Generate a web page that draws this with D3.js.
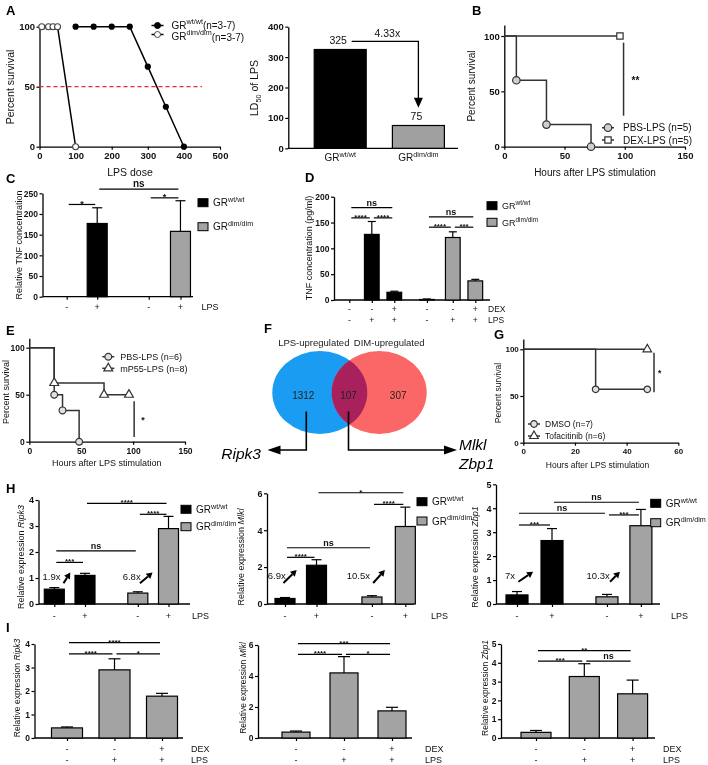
<!DOCTYPE html>
<html><head><meta charset="utf-8">
<script src="https://cdn.jsdelivr.net/npm/d3@7"></script>
<style>
body{margin:0;background:#fff}
svg{display:block;will-change:transform}
</style></head><body>
<svg id="fig" width="708" height="765"></svg>
<script>
// ================= DATA =================
// A (left): survival vs LPS dose
const aDoseWT = [100,150,200,250,300,350,400];
const aSurvWT = [100,100,100,100,66.7,33.3,0];
const aDoseDim = [6.25,25,37.5,50,100];
const aSurvDim = [100,100,100,100,0];
const aXTicks = [0,100,200,300,400,500];
const aYTicks = [0,50,100];
const aLegend = [["wt/wt","(n=3-7)"],["dim/dim","(n=3-7)"]];
// A (middle): LD50
const ldGroups = ["wt/wt","dim/dim"];
const ldValues = [325,75];
const ldFold = "4.33x";
const ldTicks = [0,100,200,300,400];
// B
const bPbsT=[0,10,35,72], bPbsS=[100,60,20,0];
const bPbsMT=[10,35,72], bPbsMS=[60,20,0];
const bDexT=[0,96], bDexS=[100,100];
const bDexMT=[96], bDexMS=[100];
const bLegend=["PBS-LPS (n=5)","DEX-LPS (n=5)"];
const bXTicks=[0,50,100,150];
// C
const cValues=[0,177,0,158];
const cErr=[0,38,0,74];
const cLPS=["-","+","-","+"];
const cTicks=[0,50,100,150,200,250];
const cSig=[{a:0,b:1,v:223,t:"*"},{a:2,b:3,v:239,t:"*"},{a:1,b:3,v:260,t:"ns"}];
// D
const dValues=[0,127,15,1,121,37];
const dErr=[0,25,2,1,11,3];
const dDEX=["-","-","+","-","-","+"];
const dLPS=["-","+","+","-","+","+"];
const dTicks=[0,50,100,150,200];
const dSig=[{a:0,b:2,v:179,t:"ns"},{a:0,b:1,v:159,t:"****"},{a:1,b:2,v:159,t:"****"},
            {a:3,b:5,v:161,t:"ns"},{a:3,b:4,v:141,t:"****"},{a:4,b:5,v:141,t:"***"}];
// E
const ePbsT=[0,24,32,48], ePbsS=[100,50,33.3,0];
const eP55T=[0,24,72,96], eP55S=[100,62.5,50,50];
const eLegend=["PBS-LPS (n=6)","mP55-LPS (n=8)"];
// F
const vennSets=["LPS-upregulated","DIM-upregulated"];
const vennCounts=[1312,107,307];
const vennLeftGenes=["Ripk3"];
const vennRightGenes=["Mlkl","Zbp1"];
// G
const gDmsoT=[0,28,48], gDmsoS=[100,57.1,57.1];
const gTofaT=[0,48], gTofaS=[100,100];
const gLegend=["DMSO (n=7)","Tofacitinib (n=6)"];
const gXTicks=[0,20,40,60];
// H
const hLPS=["-","+","-","+"];
const hRipk3=[0.57,1.1,0.42,2.9],  hRipk3Err=[0.06,0.08,0.05,0.47];
const hMlkl=[0.3,2.1,0.38,4.2],    hMlklErr=[0.05,0.3,0.07,1.05];
const hZbp1=[0.38,2.65,0.3,3.27],  hZbp1Err=[0.14,0.5,0.1,0.68];
const hFolds=[["1.9x","6.8x"],["6.9x","10.5x"],["7x","10.3x"]];
// I
const iDEX=["-","-","+"], iLPS=["-","+","+"];
const iRipk3=[0.43,2.9,1.78], iRipk3Err=[0.04,0.47,0.12];
const iMlkl=[0.38,4.2,1.75],  iMlklErr=[0.07,1.05,0.23];
const iZbp1=[0.3,3.27,2.35],  iZbp1Err=[0.1,0.68,0.73];

// ================= HELPERS =================
const F='"Liberation Sans", Arial, Helvetica, sans-serif';
const svg=d3.select("#fig").attr("font-family",F);
const BLACK="#000", GRAY="#a3a3a3", CURVE="#333";
const intFmt=d=>String(d);

function txt(g,x,y,s,o={}){
  const t=g.append("text").attr("x",x).attr("y",y).text(s)
    .attr("font-size",o.size||10).attr("text-anchor",o.anchor||"start")
    .attr("font-weight",o.bold?"bold":"normal").attr("fill",o.fill||"#111");
  if(o.italic) t.attr("font-style","italic");
  if(o.rotate) t.attr("transform",`rotate(-90,${x},${y})`);
  return t;
}
function rotLabel(g,x,y,parts,size){
  const t=g.append("text").attr("x",x).attr("y",y).attr("font-size",size)
    .attr("text-anchor","middle").attr("fill","#111").attr("transform",`rotate(-90,${x},${y})`);
  parts.forEach(p=>{
    const s=t.append("tspan").text(p.t);
    if(p.i) s.attr("font-style","italic");
    if(p.sub){ s.attr("font-size",size*0.7).attr("dy",size*0.3); }
    if(p.back){ s.attr("dy",-size*0.3); }
  });
  return t;
}
function grText(g,x,y,sup,size,anchor,after,afterDy){
  const t=g.append("text").attr("x",x).attr("y",y).attr("font-size",size)
    .attr("text-anchor",anchor||"start").attr("fill","#111");
  t.append("tspan").text("GR");
  t.append("tspan").attr("dy",-size*0.42).attr("font-size",size*0.72).text(sup);
  if(after){ t.append("tspan").attr("dy",size*0.42+(afterDy||0)).text(after); }
  return t;
}
function styleAxis(a,fs){
  a.attr("font-family",F);
  a.select(".domain").attr("stroke",BLACK).attr("stroke-width",1.3);
  a.selectAll(".tick line").attr("stroke",BLACK).attr("stroke-width",1.2);
  a.selectAll(".tick text").attr("font-size",fs).attr("font-weight","bold").attr("fill","#111");
}
function yAxis(g,y,x,ticks,fs){
  const a=g.append("g").attr("transform",`translate(${x},0)`)
   .call(d3.axisLeft(y).tickValues(ticks).tickFormat(intFmt).tickSize(3).tickSizeOuter(0).tickPadding(1.5));
  styleAxis(a,fs); return a;
}
function xAxis(g,x,y0,ticks,fs){
  const a=g.append("g").attr("transform",`translate(0,${y0})`)
   .call(d3.axisBottom(x).tickValues(ticks).tickFormat(intFmt).tickSize(3).tickSizeOuter(0).tickPadding(3));
  styleAxis(a,fs); return a;
}
function sym(g,type,x,y,size,fill){
  g.append("path").attr("d",d3.symbol().type(type).size(size)())
   .attr("transform",`translate(${x},${y})`).attr("fill",fill).attr("stroke",CURVE).attr("stroke-width",1.2);
}
function arrowHead(g,tx,ty,dir,len,half){
  let pts;
  if(dir==="down") pts=[[tx,ty],[tx-half,ty-len],[tx+half,ty-len]];
  if(dir==="left") pts=[[tx,ty],[tx+len,ty-half],[tx+len,ty+half]];
  if(dir==="right") pts=[[tx,ty],[tx-len,ty-half],[tx-len,ty+half]];
  g.append("polygon").attr("points",pts.map(p=>p.join(",")).join(" ")).attr("fill",BLACK);
}
function diagArrow(g,x1,y1,x2,y2){
  const ang=Math.atan2(y2-y1,x2-x1), L=6, W=3.5;
  const bx=x2-L*Math.cos(ang), by=y2-L*Math.sin(ang);
  g.append("line").attr("x1",x1).attr("y1",y1).attr("x2",bx).attr("y2",by).attr("stroke",BLACK).attr("stroke-width",2);
  const px=-Math.sin(ang)*W, py=Math.cos(ang)*W;
  g.append("polygon").attr("points",`${x2},${y2} ${bx+px},${by+py} ${bx-px},${by-py}`).attr("fill",BLACK);
}
function panelLetter(x,y,s){ txt(svg,x,y,s,{size:13,bold:true,fill:"#000"}); }

function survPanel(p){
  const g=svg.append("g");
  const x=d3.scaleLinear().domain(p.xd).range(p.xr);
  const y=d3.scaleLinear().domain([0,100]).range(p.yr);
  yAxis(g,d3.scaleLinear().domain([0,p.yTop]).range([p.yr[0],y(p.yTop)]),p.xr[0],[0,50,100],p.fs);
  xAxis(g,x,p.yr[0],p.xTicks,p.fs);
  const line=d3.line().x(d=>x(d[0])).y(d=>y(d[1])).curve(d3.curveStepAfter);
  p.curves.forEach(c=>{
    g.append("path").attr("d",line(c.t.map((t,i)=>[t,c.s[i]]))).attr("fill","none")
     .attr("stroke",CURVE).attr("stroke-width",1.5);
  });
  p.curves.forEach(c=>{
    c.mt.forEach((t,i)=>sym(g,c.sym,x(t),y(c.ms[i]),c.ss,c.fill));
  });
  g.append("line").attr("x1",x(p.sig.x)).attr("x2",x(p.sig.x)).attr("y1",y(p.sig.lo)).attr("y2",y(p.sig.hi))
   .attr("stroke",CURVE).attr("stroke-width",1.5);
  txt(g,x(p.sig.x)+p.sig.dx,y((p.sig.lo+p.sig.hi)/2)+p.fsL*0.45,p.sig.t,{size:p.fsL,bold:true});
  p.curves.forEach((c,i)=>{
    const ly=p.leg.y+i*p.leg.dy;
    g.append("line").attr("x1",p.leg.x-6).attr("x2",p.leg.x+6).attr("y1",ly).attr("y2",ly).attr("stroke",CURVE).attr("stroke-width",1.5);
    sym(g,c.sym,p.leg.x,ly,c.ss,c.fill);
    txt(g,p.leg.x+p.leg.tx,ly+p.fsL*0.36,p.labels[i],{size:p.fsL});
  });
  rotLabel(g,p.ylab[0],p.ylab[1],[{t:"Percent survival"}],p.fsL);
  txt(g,p.xlab[0],p.xlab[1],"Hours after LPS stimulation",{size:p.fsL,anchor:"middle"});
}

function barPanel(p){
  const g=svg.append("g");
  const y=d3.scaleLinear().domain([0,p.yMax]).range([p.y0,p.y1]);
  const x=d3.scaleLinear().domain([0,1]).range([p.c0,p.c0+p.unit]);
  const xs=p.slots.map(s=>x(s));
  g.append("line").attr("x1",p.axisX).attr("x2",p.xEnd).attr("y1",p.y0).attr("y2",p.y0).attr("stroke",BLACK).attr("stroke-width",1.3);
  const xa=g.append("g").attr("transform",`translate(0,${p.y0})`)
    .call(d3.axisBottom(x).tickValues(p.slots).tickFormat("").tickSize(3).tickSizeOuter(0));
  xa.select(".domain").remove(); xa.selectAll("line").attr("stroke",BLACK).attr("stroke-width",1.2);
  yAxis(g,y,p.axisX,p.ticks,p.fs);
  const data=p.values.map((v,i)=>({v,e:p.errs[i],x:xs[i],f:p.fills[i]}));
  g.selectAll("rect.bar").data(data.filter(d=>d.v>0)).join("rect").attr("class","bar")
    .attr("x",d=>d.x-p.bw/2).attr("y",d=>y(d.v)).attr("width",p.bw).attr("height",d=>p.y0-y(d.v))
    .attr("fill",d=>d.f).attr("stroke",BLACK).attr("stroke-width",1.2);
  data.filter(d=>d.e>0).forEach(d=>{
    g.append("line").attr("x1",d.x).attr("x2",d.x).attr("y1",y(d.v)).attr("y2",y(d.v+d.e)).attr("stroke",BLACK).attr("stroke-width",1.2);
    g.append("line").attr("x1",d.x-p.cap).attr("x2",d.x+p.cap).attr("y1",y(d.v+d.e)).attr("y2",y(d.v+d.e)).attr("stroke",BLACK).attr("stroke-width",1.2);
  });
  (p.sig||[]).forEach(s=>{
    const x1=xs[s.a]+2, x2=xs[s.b]-2, yy=y(s.v);
    g.append("line").attr("x1",x1).attr("x2",x2).attr("y1",yy).attr("y2",yy).attr("stroke",BLACK).attr("stroke-width",1.2);
    const isStar=s.t.indexOf("*")>=0;
    txt(g,(x1+x2)/2,isStar?yy+p.sfs*0.25:yy-2,s.t,{size:isStar?p.sfs:p.sfs+1,bold:true,anchor:"middle"});
  });
  (p.rows||[]).forEach(r=>{
    r.signs.forEach((s,i)=>txt(g,xs[i],r.y,s,{size:p.rfs,anchor:"middle"}));
    txt(g,p.rowLabelX,r.y,r.name,{size:p.rfs});
  });
  if(p.legend){
    p.legend.items.forEach((it,i)=>{
      const ly=p.legend.y+i*p.legend.dy;
      g.append("rect").attr("x",p.legend.x).attr("y",ly-4).attr("width",10).attr("height",8)
        .attr("fill",it.f).attr("stroke",BLACK).attr("stroke-width",1);
      grText(g,p.legend.x+15,ly+3.5,it.sup,p.legend.fs);
    });
  }
  if(p.ylab) rotLabel(g,p.ylab.x,p.ylab.y,p.ylab.parts,p.ylab.fs);
  if(p.folds){
    p.folds.forEach(f=>{
      txt(g,x(f.ts),y(f.tv)+3.5,f.t,{size:p.ffs,anchor:"middle"});
      diagArrow(g,x(f.a0),y(f.v0),x(f.a1),y(f.v1));
    });
  }
  return {g,x,y};
}

// ================= PANEL A (left) =================
(function(){
  const g=svg.append("g");
  const x=d3.scaleLinear().domain([0,500]).range([39.5,220]);
  const y=d3.scaleLinear().domain([0,100]).range([146.7,26.7]);
  yAxis(g,y,39.5,aYTicks,9.5);
  xAxis(g,x,146.7,aXTicks,9.5);
  g.append("line").attr("x1",x(0)).attr("x2",x(450)).attr("y1",y(50)).attr("y2",y(50))
    .attr("stroke","#e8262a").attr("stroke-width",1.3).attr("stroke-dasharray","4,3");
  const line=d3.line().x(d=>x(d[0])).y(d=>y(d[1]));
  const dim=aDoseDim.map((d,i)=>[d,aSurvDim[i]]), wt=aDoseWT.map((d,i)=>[d,aSurvWT[i]]);
  g.append("path").attr("d",line(dim)).attr("fill","none").attr("stroke",BLACK).attr("stroke-width",1.5);
  g.append("path").attr("d",line(wt)).attr("fill","none").attr("stroke",BLACK).attr("stroke-width",1.5);
  dim.forEach(d=>g.append("circle").attr("cx",x(d[0])).attr("cy",y(d[1])).attr("r",3).attr("fill","#fff").attr("stroke","#444").attr("stroke-width",1.1));
  wt.forEach(d=>g.append("circle").attr("cx",x(d[0])).attr("cy",y(d[1])).attr("r",3.1).attr("fill",BLACK));
  [[25.5,true],[34.5,false]].forEach((r,i)=>{
    g.append("line").attr("x1",151.5).attr("x2",163.5).attr("y1",r[0]).attr("y2",r[0]).attr("stroke",BLACK).attr("stroke-width",1.5);
    g.append("circle").attr("cx",157.5).attr("cy",r[0]).attr("r",3).attr("fill",r[1]?BLACK:"#fff").attr("stroke",r[1]?BLACK:"#444");
  });
  grText(g,171.5,28.5,aLegend[0][0],10,"start",aLegend[0][1],0);
  grText(g,171.5,39.5,aLegend[1][0],10,"start",aLegend[1][1],1);
  rotLabel(g,14,87,[{t:"Percent survival"}],10.5);
  txt(g,130,176,"LPS dose",{size:10.5,anchor:"middle"});
})();
panelLetter(6,15,"A");

// ================= PANEL A (middle) =================
(function(){
  const g=svg.append("g");
  const y=d3.scaleLinear().domain([0,400]).range([148.3,26.7]);
  const x=d3.scalePoint().domain(ldGroups).range([340.2,418.4]);
  const bw=52;
  yAxis(g,y,288.3,ldTicks,9.5);
  g.append("line").attr("x1",288.3).attr("x2",458).attr("y1",148.3).attr("y2",148.3).attr("stroke",BLACK).attr("stroke-width",1.3);
  g.selectAll("rect.ld").data(ldGroups).join("rect").attr("class","ld")
    .attr("x",d=>x(d)-bw/2).attr("width",bw).attr("y",(d,i)=>y(ldValues[i])).attr("height",(d,i)=>148.3-y(ldValues[i]))
    .attr("fill",(d,i)=>i?"#a0a0a0":BLACK).attr("stroke",BLACK).attr("stroke-width",1.2);
  ldGroups.forEach((d,i)=>{
    txt(g,x(d)-2,y(ldValues[i])-6,String(ldValues[i]),{size:10.5,anchor:"middle"});
    grText(g,x(d),161,d,10,"middle");
  });
  const ay=y(352);
  g.append("path").attr("d",`M${x(ldGroups[0])+11.5},${ay}H${x(ldGroups[1])}V${y(142)}`).attr("fill","none").attr("stroke",BLACK).attr("stroke-width",1.3);
  arrowHead(g,x(ldGroups[1]),y(140)+2,"down",10,4.5);
  txt(g,(x(ldGroups[0])+x(ldGroups[1]))/2+8,ay-4,ldFold,{size:10.5,anchor:"middle"});
  rotLabel(g,258,88,[{t:"LD"},{t:"50",sub:true},{t:" of LPS",back:true}],10.5);
})();

// ================= PANEL B =================
panelLetter(472,15,"B");
survPanel({xd:[0,150],xr:[504.3,685],yr:[146.7,36],yTop:110,xTicks:bXTicks,fs:9.5,fsL:10,
  curves:[{t:bPbsT,s:bPbsS,mt:bPbsMT,ms:bPbsMS,sym:d3.symbolCircle,ss:44,fill:"#cfcfcf"},
          {t:bDexT,s:bDexS,mt:bDexMT,ms:bDexMS,sym:d3.symbolSquare,ss:40,fill:"#fff"}],
  sig:{x:99,lo:28,hi:94,t:"**",dx:8},
  leg:{x:608,y:127.7,dy:12.3,tx:15},labels:bLegend,
  ylab:[475,86],xlab:[595,175.5]});

// ================= PANEL C =================
panelLetter(6,183,"C");
barPanel({y0:296.7,y1:193.3,yMax:250,ticks:cTicks,axisX:42.5,xEnd:193,c0:66.7,unit:30.5,
  slots:[0,1,2.69,3.73],bw:20,values:cValues,errs:cErr,fills:[BLACK,BLACK,GRAY,GRAY],cap:5,fs:8.5,
  sig:cSig,sfs:9,rows:[{signs:cLPS,y:310,name:"LPS"}],rowLabelX:201.5,rfs:9,
  legend:{x:198,y:202.7,dy:24,fs:10,items:[{f:BLACK,sup:"wt/wt"},{f:GRAY,sup:"dim/dim"}]},
  ylab:{x:21.5,y:245,fs:9,parts:[{t:"Relative TNF concentration"}]}});

// ================= PANEL D =================
panelLetter(305,182,"D");
barPanel({y0:300,y1:196.7,yMax:200,ticks:dTicks,axisX:334,xEnd:490,c0:349.3,unit:22.5,
  slots:[0,1,2,3.45,4.6,5.6],bw:14.7,values:dValues,errs:dErr,fills:[BLACK,BLACK,BLACK,GRAY,GRAY,GRAY],cap:4,fs:8.5,
  sig:dSig,sfs:8,rows:[{signs:dDEX,y:312,name:"DEX"},{signs:dLPS,y:322.5,name:"LPS"}],rowLabelX:488,rfs:8.5,
  legend:{x:487,y:205.7,dy:16.6,fs:9,items:[{f:BLACK,sup:"wt/wt"},{f:GRAY,sup:"dim/dim"}]},
  ylab:{x:312,y:248,fs:9,parts:[{t:"TNF concentration (pg/ml)"}]}});

// ================= PANEL E =================
panelLetter(6,335,"E");
survPanel({xd:[0,150],xr:[29.3,185],yr:[441.7,347.7],yTop:110,xTicks:bXTicks,fs:8.5,fsL:9,
  curves:[{t:ePbsT,s:ePbsS,mt:ePbsT.slice(1),ms:ePbsS.slice(1),sym:d3.symbolCircle,ss:36,fill:"#e0e0e0"},
          {t:eP55T,s:eP55S,mt:eP55T.slice(1),ms:eP55S.slice(1),sym:d3.symbolTriangle,ss:34,fill:"#fff"}],
  sig:{x:101,lo:5,hi:43,t:"*",dx:7},
  leg:{x:108.3,y:356.7,dy:11.6,tx:12},labels:eLegend,
  ylab:[9,392],xlab:[106.7,466]});

// ================= PANEL F (Venn) =================
panelLetter(264,333,"F");
(function(){
  const g=svg.append("g");
  const cy=392.5, rx=47.5, ry=41.5, cxL=319.8, cxR=379.2;
  const defs=svg.append("defs");
  defs.append("clipPath").attr("id","clipL").append("ellipse").attr("cx",cxL).attr("cy",cy).attr("rx",rx).attr("ry",ry);
  g.append("ellipse").attr("cx",cxL).attr("cy",cy).attr("rx",rx).attr("ry",ry).attr("fill","#1a9cf2");
  g.append("ellipse").attr("cx",cxR).attr("cy",cy).attr("rx",rx).attr("ry",ry).attr("fill","#fb6767");
  g.append("ellipse").attr("cx",cxR).attr("cy",cy).attr("rx",rx).attr("ry",ry).attr("fill","#a8215c").attr("clip-path","url(#clipL)");
  const cx=[cxL-16.5,(cxR-rx+cxL+rx)/2-1,cxR+19];
  vennCounts.forEach((c,i)=>txt(g,cx[i],399,String(c),{size:10,anchor:"middle",fill:"#222"}));
  txt(g,cxL-6,345.5,vennSets[0],{size:9.5,anchor:"middle",fill:"#222"});
  txt(g,cxR+10,345.5,vennSets[1],{size:9.5,anchor:"middle",fill:"#222"});
  g.append("path").attr("d",`M${cx[0]+3},411.5V450H279`).attr("fill","none").attr("stroke",BLACK).attr("stroke-width",1.6);
  arrowHead(g,267.5,450,"left",13,4.5);
  g.append("path").attr("d",`M${cx[1]},411.5V450H446`).attr("fill","none").attr("stroke",BLACK).attr("stroke-width",1.6);
  arrowHead(g,457,450,"right",13,4.5);
  txt(g,261,459,vennLeftGenes[0],{size:15.5,italic:true,anchor:"end",fill:"#000"});
  vennRightGenes.forEach((s,i)=>txt(g,459,450+i*19,s,{size:15.5,italic:true,fill:"#000"}));
})();

// ================= PANEL G =================
panelLetter(494,338.5,"G");
survPanel({xd:[0,60],xr:[523.3,678.3],yr:[442.7,349.3],yTop:111,xTicks:gXTicks,fs:8,fsL:8.5,
  curves:[{t:gDmsoT,s:gDmsoS,mt:gDmsoT.slice(1),ms:gDmsoS.slice(1),sym:d3.symbolCircle,ss:34,fill:"#e0e0e0"},
          {t:gTofaT,s:gTofaS,mt:[48],ms:[100],sym:d3.symbolTriangle,ss:32,fill:"#fff"}],
  sig:{x:50.6,lo:54,hi:96.4,t:"*",dx:4},
  leg:{x:534,y:424,dy:12,tx:11},labels:gLegend,
  ylab:[501,393],xlab:[597.5,468]});

// ================= PANEL H =================
panelLetter(6,493,"H");
const hLegend={items:[{f:BLACK,sup:"wt/wt"},{f:GRAY,sup:"dim/dim"}]};
barPanel({y0:604,y1:500,yMax:4,ticks:[0,1,2,3,4],axisX:38.5,xEnd:190,c0:54.3,unit:30.7,
  slots:[0,1,2.72,3.72],bw:20,values:hRipk3,errs:hRipk3Err,fills:[BLACK,BLACK,GRAY,GRAY],cap:5,fs:9,
  sig:[{a:0,b:1,v:1.6,t:"***"},{a:0,b:2,v:2.04,t:"ns"},{a:1,b:3,v:3.87,t:"****"},{a:2,b:3,v:3.45,t:"****"}],sfs:8,
  rows:[{signs:hLPS,y:619,name:"LPS"}],rowLabelX:192,rfs:9,
  legend:{x:181,y:509.3,dy:17.4,fs:10,items:hLegend.items},
  ylab:{x:24,y:557,fs:9,parts:[{t:"Relative expression "},{t:"Ripk3",i:true}]},
  ffs:9.5,folds:[{t:hFolds[0][0],ts:-0.09,tv:1.05,a0:0.3,v0:0.8,a1:0.52,v1:1.21},
                 {t:hFolds[0][1],ts:2.52,tv:1.05,a0:2.79,v0:0.8,a1:3.2,v1:1.21}]});
barPanel({y0:604,y1:493.3,yMax:6,ticks:[0,2,4,6],axisX:267,xEnd:414,c0:285,unit:31.5,
  slots:[0,1,2.76,3.82],bw:20,values:hMlkl,errs:hMlklErr,fills:[BLACK,BLACK,GRAY,GRAY],cap:5,fs:9,
  sig:[{a:0,b:1,v:2.53,t:"****"},{a:0,b:2,v:3.05,t:"ns"},{a:1,b:3,v:6.03,t:"*"},{a:2,b:3,v:5.4,t:"****"}],sfs:8,
  rows:[{signs:hLPS,y:619,name:"LPS"}],rowLabelX:431,rfs:9,
  legend:{x:417,y:501.7,dy:19.3,fs:10,items:hLegend.items},
  ylab:{x:244,y:557,fs:9,parts:[{t:"Relative expression "},{t:"Mlkl",i:true}]},
  ffs:9.5,folds:[{t:hFolds[1][0],ts:-0.26,tv:1.52,a0:-0.05,v0:1.14,a1:0.37,v1:1.84},
                 {t:hFolds[1][1],ts:2.33,tv:1.52,a0:2.8,v0:1.14,a1:3.17,v1:1.84}]});
barPanel({y0:604,y1:484.3,yMax:5,ticks:[0,1,2,3,4,5],axisX:496,xEnd:660,c0:517,unit:35,
  slots:[0,1,2.57,3.54],bw:22,values:hZbp1,errs:hZbp1Err,fills:[BLACK,BLACK,GRAY,GRAY],cap:5,fs:9,
  sig:[{a:0,b:1,v:3.3,t:"***"},{a:0,b:2,v:3.79,t:"ns"},{a:1,b:3,v:4.25,t:"ns"},{a:2,b:3,v:3.72,t:"***"}],sfs:8,
  rows:[{signs:hLPS,y:619,name:"LPS"}],rowLabelX:671,rfs:9,
  legend:{x:650.7,y:503.3,dy:19.4,fs:10,items:hLegend.items},
  ylab:{x:478,y:557,fs:9,parts:[{t:"Relative expression "},{t:"Zbp1",i:true}]},
  ffs:9.5,folds:[{t:hFolds[2][0],ts:-0.2,tv:1.17,a0:0.04,v0:0.93,a1:0.46,v1:1.35},
                 {t:hFolds[2][1],ts:2.32,tv:1.17,a0:2.66,v0:0.93,a1:2.94,v1:1.35}]});

// ================= PANEL I =================
panelLetter(6,632,"I");
barPanel({y0:738,y1:644,yMax:4,ticks:[0,1,2,3,4],axisX:34.5,xEnd:183,c0:67,unit:47.5,
  slots:[0,1,2],bw:31,values:iRipk3,errs:iRipk3Err,fills:[GRAY,GRAY,GRAY],cap:6,fs:8.5,
  sig:[{a:0,b:2,v:4.06,t:"****"},{a:0,b:1,v:3.58,t:"****"},{a:1,b:2,v:3.58,t:"*"}],sfs:8,
  rows:[{signs:iDEX,y:752,name:"DEX"},{signs:iLPS,y:762.5,name:"LPS"}],rowLabelX:191,rfs:9,
  ylab:{x:20,y:688,fs:8.5,parts:[{t:"Relative expression "},{t:"Ripk3",i:true}]}});
barPanel({y0:738,y1:645,yMax:6,ticks:[0,2,4,6],axisX:258,xEnd:412,c0:296,unit:48,
  slots:[0,1,2],bw:28,values:iMlkl,errs:iMlklErr,fills:[GRAY,GRAY,GRAY],cap:6,fs:8.5,
  sig:[{a:0,b:2,v:6.09,t:"***"},{a:0,b:1,v:5.4,t:"****"},{a:1,b:2,v:5.4,t:"*"}],sfs:8,
  rows:[{signs:iDEX,y:752,name:"DEX"},{signs:iLPS,y:762.5,name:"LPS"}],rowLabelX:425,rfs:9,
  ylab:{x:246,y:688,fs:8.5,parts:[{t:"Relative expression "},{t:"Mlkl",i:true}]}});
barPanel({y0:738,y1:644,yMax:5,ticks:[0,1,2,3,4,5],axisX:501,xEnd:655,c0:536,unit:48.3,
  slots:[0,1,2],bw:30,values:iZbp1,errs:iZbp1Err,fills:[GRAY,GRAY,GRAY],cap:6,fs:8.5,
  sig:[{a:0,b:2,v:4.65,t:"**"},{a:0,b:1,v:4.09,t:"***"},{a:1,b:2,v:4.09,t:"ns"}],sfs:8,
  rows:[{signs:iDEX,y:752,name:"DEX"},{signs:iLPS,y:762.5,name:"LPS"}],rowLabelX:663,rfs:9,
  ylab:{x:488,y:688,fs:8.5,parts:[{t:"Relative expression "},{t:"Zbp1",i:true}]}});
</script></body></html>
